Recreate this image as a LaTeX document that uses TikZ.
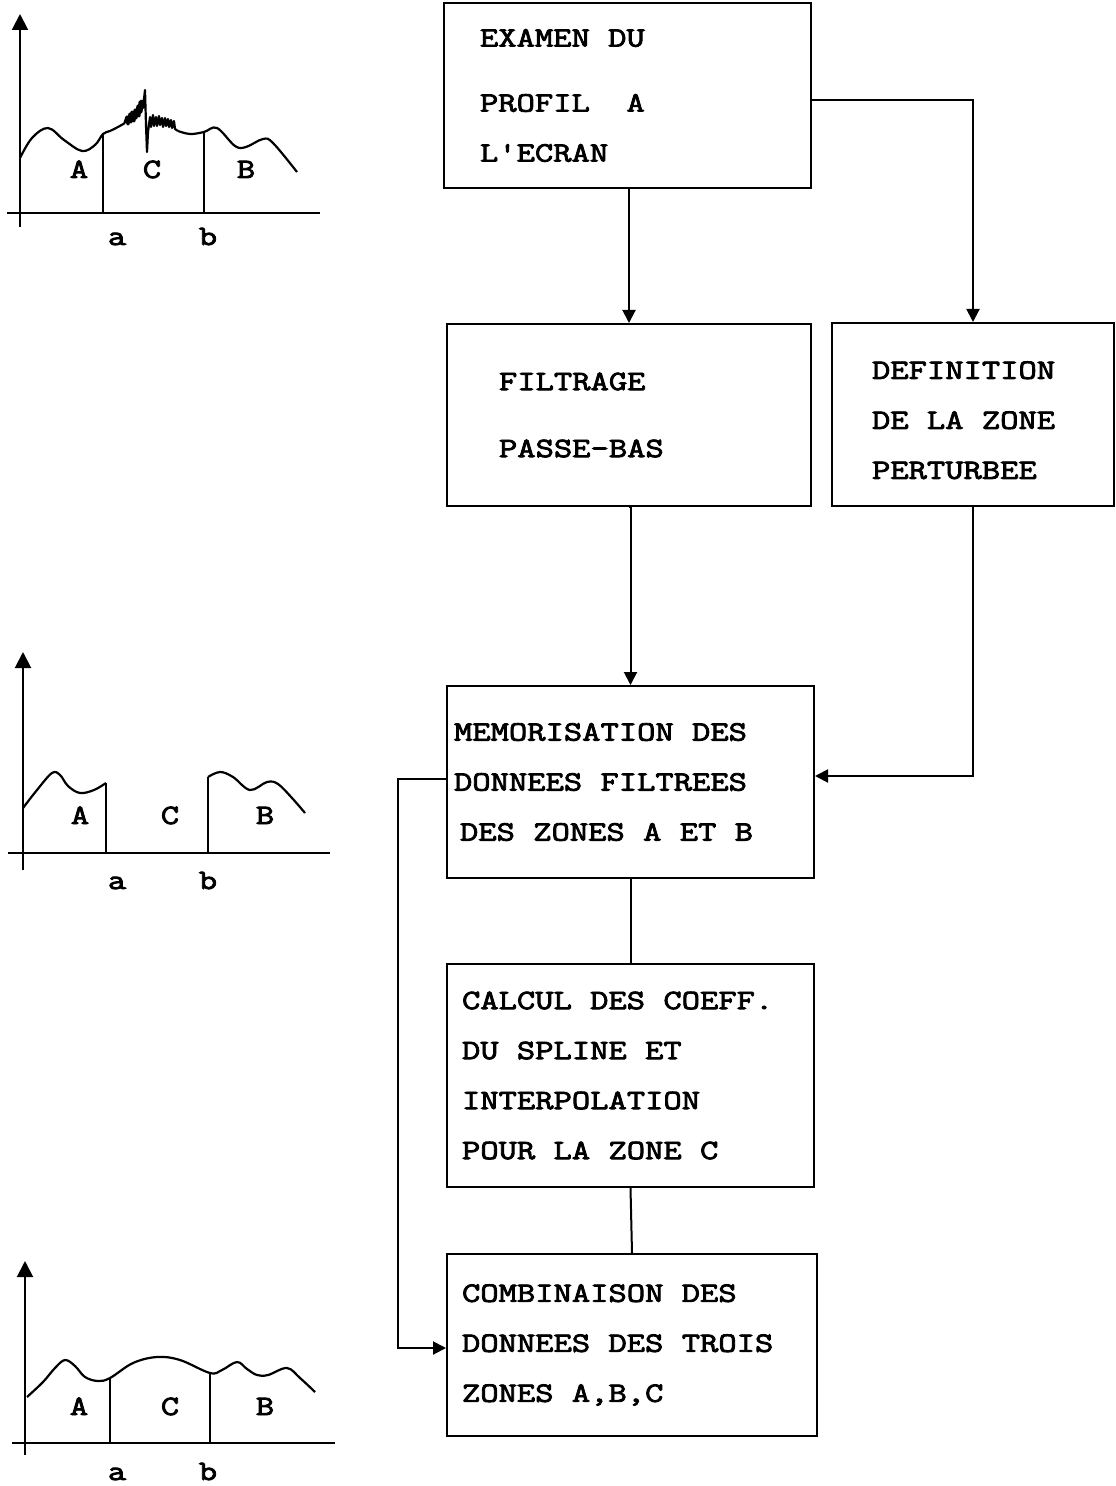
\documentclass[tikz,border=0pt]{standalone}
\usepackage{fontspec}
\newfontfamily\typefont[FakeStretch=1.27, FakeBold=3]{Latin Modern Mono}
\usetikzlibrary{arrows.meta}

% typewriter look: every space as wide as a letter
\newcommand{\boxfont}{\typefont\fontsize{14}{25}\selectfont}
\newcommand{\fullspace}{\spaceskip=\fontcharwd\font`M\relax\xspaceskip=\spaceskip}

\tikzset{
  stepbox/.style={draw, line width=1pt, rectangle, align=left, anchor=north west,
    font=\boxfont, inner ysep=0pt, execute at begin node=\fullspace},
  flow/.style={line width=1pt, -{Triangle[length=6.5pt,width=6.5pt]}},
  link/.style={line width=1pt},
  axis/.style={line width=1pt, -{Triangle[length=8pt,width=8pt]}},
  sig/.style={line width=1.1pt, line join=round},
  lab/.style={font=\boxfont, anchor=base, inner sep=0pt}
}

\begin{document}
\begin{tikzpicture}[x=0.5pt, y=-0.5pt]
  \useasboundingbox (0,0) rectangle (1115,1486);

  % flow chart boxes
  \node[stepbox, text width=147.5pt, inner xsep=18pt, minimum height=92.5pt] (exam) at (443,2)
    {EXAMEN DU\\[7.5pt] PROFIL~~A\\ L'ECRAN};
  \node[stepbox, text width=130pt, inner xsep=26pt, minimum height=91pt] (filt) at (446,323)
    {FILTRAGE\\[8.5pt] PASSE-BAS};
  \node[stepbox, text width=101pt, inner xsep=20pt, minimum height=91.5pt] (defi) at (831,322)
    {\rule{0pt}{14.5pt}DEFINITION\\ DE LA ZONE\\ PERTURBEE};
  \node[stepbox, text width=176.5pt, inner xsep=3.5pt, minimum height=96pt] (memo) at (446,685)
    {MEMORISATION DES\\ DONNEES FILTREES\\ \hspace*{3pt}DES ZONES A ET B};
  \node[stepbox, text width=168.5pt, inner xsep=7.5pt, minimum height=111.5pt] (calc) at (446,963)
    {CALCUL DES COEFF.\\ DU SPLINE ET\\ INTERPOLATION\\ POUR LA ZONE C};
  \node[stepbox, text width=170pt, inner xsep=7.5pt, minimum height=91pt] (comb) at (446,1253)
    {COMBINAISON DES\\ DONNEES DES TROIS\\ ZONES A,B,C};

  % connectors
  \draw[flow] (filt.north |- exam.south) -- (filt.north);
  \draw[flow] ([yshift=-2.5pt]exam.east) -| (defi.north);
  \draw[flow] (filt.south) -- (memo.north |- filt.south) -- (memo.north);
  \draw[flow] (defi.south) |- ([yshift=3pt]memo.east);
  \draw[link] (memo.south) -- (calc.north);
  \draw[link] (calc.south) -- (comb.north);
  \draw[flow] ([yshift=1.5pt]memo.west) -- ++(-48,0) |- ([yshift=-1.5pt]comb.west);

  % profile 1: raw signal
  \draw[axis] (20,227) -- (20,14);
  \draw[link] (7,213) -- (320,213);
  \draw[sig] plot[smooth, tension=0.6] coordinates {(20,158) (32,138) (48,128) (64,140)
    (82,151) (95,145) (103,134) (110,131) (118,127) (125,123)};
  \draw[sig, line width=1.6pt] (125,123) -- (127,117) -- (128,124) -- (130,114) -- (131,122)
    -- (132,112) -- (134,121) -- (135,110) -- (136,118) -- (138,106) -- (139,116)
    -- (140,102) -- (141,112) -- (142,100);
  \draw[sig] (142,100) -- (143,108) -- (145,90) -- (146,125) -- (147,152) -- (148,132)
    -- (150,117) -- (151,127) -- (153,115) -- (154,126) -- (156,117) -- (157,126)
    -- (159,116) -- (160,125) -- (162,118) -- (163,127) -- (165,118) -- (166,126)
    -- (168,119) -- (169,127) -- (171,120) -- (172,128) -- (174,121) -- (175,129)
    -- (178,131);
  \draw[sig] plot[smooth, tension=0.6] coordinates {(178,131) (190,134) (204,132)
    (217,128) (235,146) (246,147) (263,139) (273,143) (297,172)};
  \draw[link] (103,134) -- (103,213);
  \draw[link] (204,132) -- (204,213);
  \node[lab] (pA1) at (79,178) {A};
  \node[lab] (pC1) at (152,178) {C};
  \node[lab] (pB1) at (246,178) {B};
  \node[lab] (pa1) at (117,245) {a};
  \node[lab] (pb1) at (208,245) {b};

  % profile 2: filtered zones A and B
  \draw[axis] (23,870) -- (23,652);
  \draw[link] (8,853) -- (330,853);
  \draw[sig] plot[smooth, tension=0.6] coordinates {(23,808) (37,790) (52,773) (60,775)
    (68,786) (80,793) (94,790) (106,783)};
  \draw[link] (106,783) -- (106,853);
  \draw[sig] (208,853) -- (208,777);
  \draw[sig] plot[smooth, tension=0.6] coordinates {(208,777) (220,772) (233,777)
    (250,790) (267,782) (278,784) (292,798) (305,813)};
  \node[lab] (pA2) at (80,824) {A};
  \node[lab] (pC2) at (170,824) {C};
  \node[lab] (pB2) at (265,824) {B};
  \node[lab] (pa2) at (117,889) {a};
  \node[lab] (pb2) at (208,889) {b};

  % profile 3: combined result
  \draw[axis] (25,1455) -- (25,1261);
  \draw[link] (12,1443) -- (335,1443);
  \draw[sig] plot[smooth, tension=0.6] coordinates {(27,1397) (43,1382) (55,1368)
    (65,1360) (75,1366) (85,1377) (98,1381) (110,1378) (133,1363) (157,1357)
    (180,1360) (210,1373) (222,1370) (237,1362) (247,1369) (257,1375) (268,1375)
    (287,1368) (300,1378) (315,1392)};
  \draw[link] (110,1378) -- (110,1443);
  \draw[link] (210,1373) -- (210,1443);
  \node[lab] (pA3) at (79,1415) {A};
  \node[lab] (pC3) at (170,1415) {C};
  \node[lab] (pB3) at (265,1415) {B};
  \node[lab] (pa3) at (117,1480) {a};
  \node[lab] (pb3) at (208,1480) {b};
\end{tikzpicture}
\end{document}
